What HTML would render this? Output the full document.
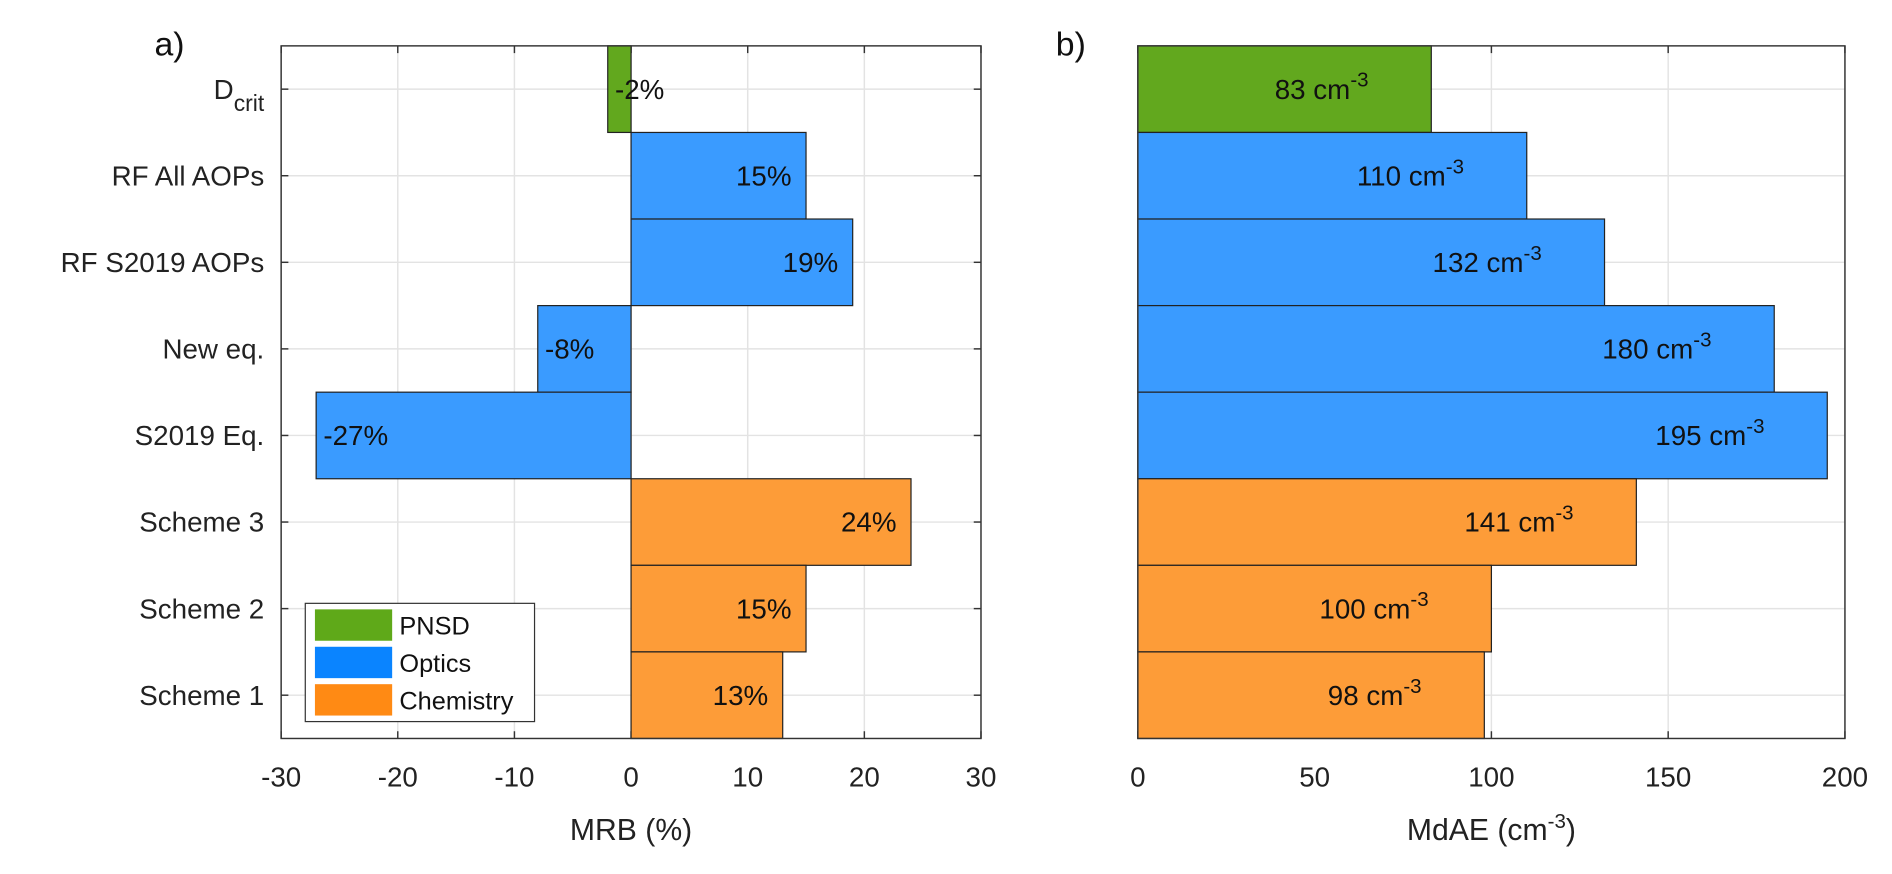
<!DOCTYPE html>
<html><head><meta charset="utf-8"><style>
body{margin:0;background:#fff;}
svg{font-family:"Liberation Sans",Arial,sans-serif;display:block;}
</style></head><body>
<svg id="c" width="1892" height="874" viewBox="0 0 1568 724.3" xmlns="http://www.w3.org/2000/svg"></svg>
<script>
const categories=["Dcrit","RF All AOPs","RF S2019 AOPs","New eq.","S2019 Eq.","Scheme 3","Scheme 2","Scheme 1"];
const groups=["PNSD","Optics","Optics","Optics","Optics","Chemistry","Chemistry","Chemistry"];
const mrbValues=[-2,15,19,-8,-27,24,15,13];
const mdaeValues=[83,110,132,180,195,141,100,98];
const mrbTicks=[-30,-20,-10,0,10,20,30];
const mdaeTicks=[0,50,100,150,200];
const legendLabels=["PNSD","Optics","Chemistry"];
const colors={PNSD:"#62a81e",Optics:"#3a9bff",Chemistry:"#fd9c38"};
const legendColors={PNSD:"#5fa919",Optics:"#0a84ff",Chemistry:"#ff8a14"};

const NS="http://www.w3.org/2000/svg";
const svgEl=document.getElementById('c');
function mk(tag,attrs,parent){const e=document.createElementNS(NS,tag);for(const k in attrs)e.setAttribute(k,attrs[k]);(parent||svgEl).appendChild(e);return e;}
const plotTop=38,plotBot=612,rowH=(plotBot-plotTop)/categories.length;
const yC=i=>plotTop+rowH*(i+0.5);
const L={x0:233,x1:813,min:-30,max:30};
const R={x0:943,x1:1529,min:0,max:200};
const xs=(a,v)=>a.x0+(v-a.min)/(a.max-a.min)*(a.x1-a.x0);

function axes(a,ticks,title,panelId,showY){
  const g=mk('g',{});
  
  
  ticks.forEach(t=>{const x=xs(a,t);
    const l=mk('line',{x1:x,x2:x,y1:plotTop,y2:plotBot,stroke:'#e3e3e3','stroke-width':1.2},g);
    
    
    const tl=mk('text',{x:x,y:plotBot+40,'font-size':23,'text-anchor':'middle',fill:'#222'},g);
    tl.textContent=t;
    
    
    mk('line',{x1:x,x2:x,y1:plotBot,y2:plotBot-6,stroke:'#333','stroke-width':1.2},g);
    mk('line',{x1:x,x2:x,y1:plotTop,y2:plotTop+6,stroke:'#333','stroke-width':1.2},g);
  });
  categories.forEach((c,i)=>{const y=yC(i);
    const l=mk('line',{x1:a.x0,x2:a.x1,y1:y,y2:y,stroke:'#e3e3e3','stroke-width':1.2},g);
    
    
    if(showY){
      mk('line',{x1:a.x0,x2:a.x0+6,y1:y,y2:y,stroke:'#333','stroke-width':1.2},g);
      mk('line',{x1:a.x1,x2:a.x1-6,y1:y,y2:y,stroke:'#333','stroke-width':1.2},g);
      const t=mk('text',{x:a.x0-14,y:y+8,'font-size':23,'text-anchor':'end',fill:'#222'},g);
      
      
      if(c==="Dcrit"){t.innerHTML='D<tspan font-size="19" dy="10">crit</tspan>';}
      else t.textContent=c;
    }
  });
  const tt=mk('text',{x:(a.x0+a.x1)/2,y:696,'font-size':25,'text-anchor':'middle',fill:'#222'},g);
  
  
  tt.innerHTML=title;
}
function box(a){const r=mk('rect',{x:a.x0,y:plotTop,width:a.x1-a.x0,height:plotBot-plotTop,fill:'none',stroke:'#333','stroke-width':1.2});
  
  }

axes(L,mrbTicks,'MRB (%)','left',true);
axes(R,mdaeTicks,'MdAE (cm<tspan font-size="17" dy="-10">-3</tspan><tspan dy="10">)</tspan>','right',false);

mrbValues.forEach((v,i)=>{
  const x0=xs(L,0),x1=xs(L,v);
  const r=mk('rect',{x:Math.min(x0,x1),y:yC(i)-rowH/2,width:Math.abs(x1-x0),height:rowH,fill:colors[groups[i]],stroke:'#222','stroke-width':1});
  
  
  let t;
  if(v<0) t=mk('text',{x:x1+6,y:yC(i)+8,'font-size':23,'text-anchor':'start',fill:'#111'});
  else t=mk('text',{x:x1-12,y:yC(i)+8,'font-size':23,'text-anchor':'end',fill:'#111'});
  t.textContent=v+'%';
  
  
});
mdaeValues.forEach((v,i)=>{
  const x0=xs(R,0),x1=xs(R,v);
  const r=mk('rect',{x:x0,y:yC(i)-rowH/2,width:x1-x0,height:rowH,fill:colors[groups[i]],stroke:'#222','stroke-width':1});
  
  
  const t=mk('text',{x:x1-52,y:yC(i)+8,'font-size':23,'text-anchor':'end',fill:'#111'});
  t.innerHTML=v+' cm<tspan font-size="17" dy="-10">-3</tspan>';
  
  
});
box(L);box(R);

const lg=mk('g',{});


mk('rect',{x:253,y:500,width:190,height:98,fill:'#fff',stroke:'#333','stroke-width':1},lg);
legendLabels.forEach((n,i)=>{
  const y=505+i*31;
  const e=mk('g',{},lg);
  
  
  mk('rect',{x:261,y:y,width:64,height:26,fill:legendColors[n]},e);
  const t=mk('text',{x:331,y:y+21,'font-size':21,fill:'#111'},e);t.textContent=n;
});

const pa=mk('text',{x:128,y:46,'font-size':28,fill:'#111'});pa.textContent='a)';


const pb=mk('text',{x:875,y:46,'font-size':28,fill:'#111'});pb.textContent='b)';


</script>
</body></html>
